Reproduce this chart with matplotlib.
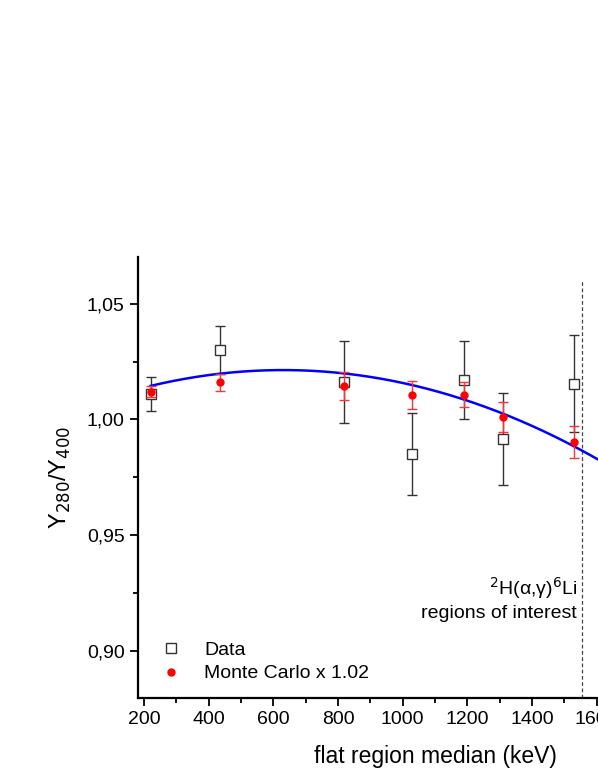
import numpy as np
import matplotlib.pyplot as plt
from matplotlib.lines import Line2D
from matplotlib.ticker import MultipleLocator, FuncFormatter

plt.rcParams['font.family'] = ['Liberation Sans', 'DejaVu Sans']

# values
energy = [220, 435, 819, 1028, 1191, 1309, 1531]
ratio_data = [1.011, 1.030, 1.016, 0.985, 1.017, 0.9915, 1.0155]
err_data = [0.0073, 0.0103, 0.0177, 0.0177, 0.017, 0.0199, 0.021]
ratio_mc = [1.012, 1.016, 1.0146, 1.0105, 1.0106, 1.001, 0.9905]
err_mc = [0.0025, 0.0037, 0.006, 0.006, 0.0054, 0.0066, 0.0069]

# quadratic fit c0 + c1*x + c2*x^2
fit_coef = [1.00519, 5.116e-5, -4.06e-8]
fit_range = [220, 2000]
roi_edge = 1555

fig = plt.figure(figsize=(5.98, 7.84), dpi=100)
ax = fig.add_axes([0.2303, 0.110, 0.9943, 0.562])

ax.errorbar(energy, ratio_data, yerr=err_data, fmt='s', ms=6.5, mfc='white',
            mec='#333333', mew=1.0, ecolor='#333333', elinewidth=1.0,
            capsize=3.5, capthick=1.0, zorder=3)

xf = np.linspace(fit_range[0], fit_range[1], 300)
yf = fit_coef[0] + fit_coef[1] * xf + fit_coef[2] * xf ** 2
ax.plot(xf, yf, color='#0000ff', lw=1.8, zorder=4)

ax.errorbar(energy, ratio_mc, yerr=err_mc, fmt='o', ms=5, mfc='red',
            mec='red', ecolor='#ff3333', elinewidth=1.0, capsize=3.5,
            capthick=1.0, zorder=5)

ax.plot([roi_edge, roi_edge], [0.88, 1.06], color='#444444', lw=0.9,
        ls=(0, (3, 2)), zorder=2)

ax.text(1540, 0.9245, '$^{2}$H(\u03b1,\u03b3)$^{6}$Li', ha='right',
        va='baseline', fontsize=14)
ax.text(1540, 0.9145, 'regions of interest', ha='right', va='baseline',
        fontsize=14)

ax.set_xlim(180, 2020)
ax.set_ylim(0.88, 1.07)
ax.xaxis.set_major_locator(MultipleLocator(200))
ax.xaxis.set_minor_locator(MultipleLocator(100))
ax.yaxis.set_major_locator(MultipleLocator(0.05))
ax.yaxis.set_minor_locator(MultipleLocator(0.025))
ax.yaxis.set_major_formatter(FuncFormatter(lambda v, p: f'{v:.2f}'.replace('.', ',')))

for s in ['top', 'right']:
    ax.spines[s].set_visible(False)
for s in ['left', 'bottom']:
    ax.spines[s].set_linewidth(1.6)
ax.tick_params(which='major', direction='out', length=6, width=1.3, labelsize=14)
ax.tick_params(which='minor', direction='out', length=3.5, width=1.3)

ax.set_xlabel('flat region median (keV)', fontsize=16.5, labelpad=12)
ax.set_ylabel(r'Y$_{280}$/Y$_{400}$', fontsize=17, labelpad=10)

handles = [
    Line2D([], [], ls='none', marker='s', ms=6.5, mfc='white', mec='#333333', mew=1.0),
    Line2D([], [], ls='none', marker='o', ms=5, mfc='red', mec='red'),
]
ax.legend(handles, ['Data', 'Monte Carlo x 1.02'], loc='lower left',
          bbox_to_anchor=(0.01, -0.005), frameon=False, fontsize=14,
          handlelength=1.0, handletextpad=1.2, labelspacing=0.3)

fig.savefig('out.png', dpi=100)
